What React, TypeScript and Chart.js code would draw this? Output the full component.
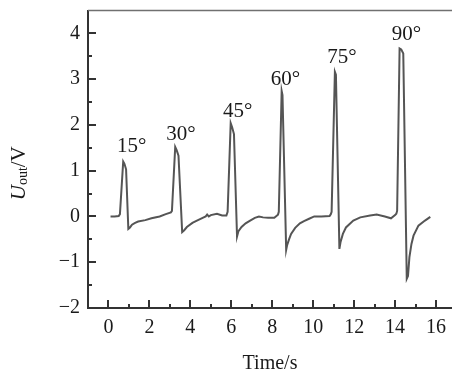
import React, { useEffect, useRef } from "react";
import { Chart, registerables } from "chart.js";

Chart.register(...registerables);

// ---- data ----
const timeS = [
  0.1, 0.3, 0.5, 0.56, 0.72, 0.78, 0.86, 0.97, 1.05, 1.15, 1.3, 1.45, 1.8, 2.1, 2.5, 2.8, 3.05,
  3.1, 3.26, 3.33, 3.42, 3.6, 3.7, 3.83, 4.1, 4.32, 4.6, 4.75, 4.82, 4.9, 5.0, 5.3, 5.55, 5.76,
  5.82, 5.97, 6.04, 6.13, 6.28, 6.35, 6.5, 6.7, 6.92, 7.15, 7.35, 7.55, 7.8, 8.1, 8.28,
  8.32, 8.46, 8.5, 8.68, 8.73, 8.82, 8.92, 9.12, 9.35, 9.55, 9.8, 10.05, 10.4, 10.8, 10.86,
  10.9, 11.06, 11.11, 11.28, 11.34, 11.45, 11.6, 11.96, 12.3, 12.78, 13.1, 13.5, 13.8, 14.0, 14.06,
  14.1, 14.22, 14.3, 14.4, 14.57, 14.63, 14.7, 14.8, 14.9, 15.14, 15.46, 15.72,
];
const voltage = [
  0.0, 0.0, 0.01, 0.05, 1.2, 1.15, 1.03, -0.27, -0.24, -0.18, -0.14, -0.11, -0.08, -0.04, 0.0, 0.05, 0.09,
  0.12, 1.52, 1.45, 1.33, -0.34, -0.3, -0.23, -0.14, -0.09, -0.03, 0.0, 0.04, 0.0, 0.03, 0.06, 0.02, 0.02,
  0.1, 2.04, 1.95, 1.8, -0.44, -0.32, -0.23, -0.15, -0.09, -0.03, 0.0, -0.02, -0.03, -0.03, 0.04,
  0.1, 2.74, 2.65, -0.73, -0.62, -0.5, -0.38, -0.25, -0.15, -0.1, -0.05, 0.0, 0.0, 0.01, 0.05,
  0.1, 3.16, 3.1, -0.71, -0.55, -0.38, -0.24, -0.09, -0.02, 0.02, 0.04, 0.0, -0.04, 0.03, 0.06,
  0.12, 3.67, 3.65, 3.56, -1.36, -1.3, -0.89, -0.6, -0.42, -0.2, -0.09, -0.01,
];

const xTickValues = [0, 2, 4, 6, 8, 10, 12, 14, 16];
const xMinorTicks = [1, 3, 5, 7, 9, 11, 13, 15];
const yTickValues = [-2, -1, 0, 1, 2, 3, 4];
const yMinorTicks = [-1.5, -0.5, 0.5, 1.5, 2.5, 3.5];

const angleLabels = ["15°", "30°", "45°", "60°", "75°", "90°"];
const angleLabelX = [0.42, 2.82, 5.59, 7.93, 10.69, 13.84];
const angleLabelY = [1.41, 1.66, 2.17, 2.87, 3.35, 3.85];

const xTitle = "Time/s";
const yTitleMain = "U";
const yTitleSub = "out";
const yTitleRest = "/V";

const X_MIN = -1;
const X_MAX = 16.78;
const Y_MIN = -2;
const Y_MAX = 4.5;

const SERIF = "'Liberation Serif', 'Times New Roman', serif";
const AXIS_COLOR = "#333333";
const TEXT_COLOR = "#1a1a1a";

const fmt = (v: number) => String(v).replace("-", "\u2212");

const decorPlugin = {
  id: "decor",
  afterDatasetsDraw(chart: any) {
    const { ctx, chartArea: a, scales } = chart;
    const xs = scales.x;
    const ys = scales.y;
    ctx.save();
    // top frame line
    ctx.strokeStyle = "#707070";
    ctx.lineWidth = 1.5;
    ctx.beginPath();
    ctx.moveTo(a.left, a.top);
    ctx.lineTo(a.right, a.top);
    ctx.stroke();

    // inward tick marks
    ctx.strokeStyle = AXIS_COLOR;
    ctx.lineWidth = 2;
    ctx.beginPath();
    xTickValues.forEach((v) => {
      const px = Math.round(xs.getPixelForValue(v));
      ctx.moveTo(px, a.bottom);
      ctx.lineTo(px, a.bottom - 8);
    });
    xMinorTicks.forEach((v) => {
      const px = Math.round(xs.getPixelForValue(v));
      ctx.moveTo(px, a.bottom);
      ctx.lineTo(px, a.bottom - 4);
    });
    yTickValues.forEach((v) => {
      const py = Math.round(ys.getPixelForValue(v));
      ctx.moveTo(a.left, py);
      ctx.lineTo(a.left + 8, py);
    });
    yMinorTicks.forEach((v) => {
      const py = Math.round(ys.getPixelForValue(v));
      ctx.moveTo(a.left, py);
      ctx.lineTo(a.left + 4, py);
    });
    ctx.stroke();

    // angle annotations
    ctx.fillStyle = TEXT_COLOR;
    ctx.font = `21px ${SERIF}`;
    ctx.textAlign = "left";
    ctx.textBaseline = "alphabetic";
    angleLabels.forEach((t, i) => {
      ctx.fillText(t, xs.getPixelForValue(angleLabelX[i]), ys.getPixelForValue(angleLabelY[i]));
    });

    // y axis title: U_out/V (rotated)
    const mainFont = `italic 21px ${SERIF}`;
    const subFont = `14px ${SERIF}`;
    const restFont = `21px ${SERIF}`;
    ctx.font = mainFont;
    const w1 = ctx.measureText(yTitleMain).width;
    ctx.font = subFont;
    const w2 = ctx.measureText(yTitleSub).width;
    ctx.font = restFont;
    const w3 = ctx.measureText(yTitleRest).width;
    const total = w1 + w2 + w3;
    const cy = (a.top + a.bottom) / 2 + 14;
    ctx.translate(25, cy);
    ctx.rotate(-Math.PI / 2);
    let x0 = -total / 2;
    ctx.font = mainFont;
    ctx.fillText(yTitleMain, x0, 0);
    x0 += w1;
    ctx.font = subFont;
    ctx.fillText(yTitleSub, x0, 2);
    x0 += w2;
    ctx.font = restFont;
    ctx.fillText(yTitleRest, x0, 0);
    ctx.restore();
  },
};

export default function App() {
  const canvasRef = useRef<HTMLCanvasElement | null>(null);

  useEffect(() => {
    const canvas = canvasRef.current;
    if (!canvas) return;
    const points = timeS.map((t, i) => ({ x: t, y: voltage[i] }));
    const chart = new Chart(canvas, {
      type: "line",
      data: {
        datasets: [
          {
            data: points,
            borderColor: "#555555",
            borderWidth: 2,
            pointRadius: 0,
            tension: 0,
            fill: false,
          },
        ],
      },
      options: {
        responsive: false,
        animation: false,
        devicePixelRatio: 1,
        layout: { padding: { top: 10.5, left: 0, right: 0, bottom: 0 } },
        plugins: {
          legend: { display: false },
          tooltip: { enabled: false },
        },
        scales: {
          x: {
            type: "linear",
            min: X_MIN,
            max: X_MAX,
            grid: { display: false, drawTicks: false },
            border: { display: true, color: AXIS_COLOR, width: 2 },
            afterBuildTicks: (s: any) => {
              s.ticks = xTickValues.map((v) => ({ value: v }));
            },
            afterFit: (s: any) => {
              s.height = 66;
              s.paddingLeft = 0;
              s.paddingRight = 0;
            },
            ticks: {
              autoSkip: false,
              maxRotation: 0,
              padding: 8,
              color: TEXT_COLOR,
              font: { family: SERIF, size: 20 },
              callback: (v: any) => fmt(Number(v)),
            },
            title: {
              display: true,
              text: xTitle,
              color: TEXT_COLOR,
              font: { family: SERIF, size: 20, lineHeight: 1 },
              padding: { top: 0, bottom: 0 },
            },
          },
          y: {
            type: "linear",
            min: Y_MIN,
            max: Y_MAX,
            grid: { display: false, drawTicks: false },
            border: { display: true, color: AXIS_COLOR, width: 2 },
            afterBuildTicks: (s: any) => {
              s.ticks = yTickValues.map((v) => ({ value: v }));
            },
            afterFit: (s: any) => {
              s.width = 88;
              s.paddingTop = 0;
              s.paddingBottom = 0;
            },
            ticks: {
              autoSkip: false,
              padding: 8,
              color: TEXT_COLOR,
              font: { family: SERIF, size: 20 },
              callback: (v: any) => fmt(Number(v)),
            },
          },
        },
      },
      plugins: [decorPlugin],
    } as any);
    return () => chart.destroy();
  }, []);

  return (
    <div style={{ position: "fixed", left: 0, top: 0, width: 452, height: 374, background: "#ffffff" }}>
      <canvas ref={canvasRef} width={452} height={374} style={{ display: "block" }} />
    </div>
  );
}
